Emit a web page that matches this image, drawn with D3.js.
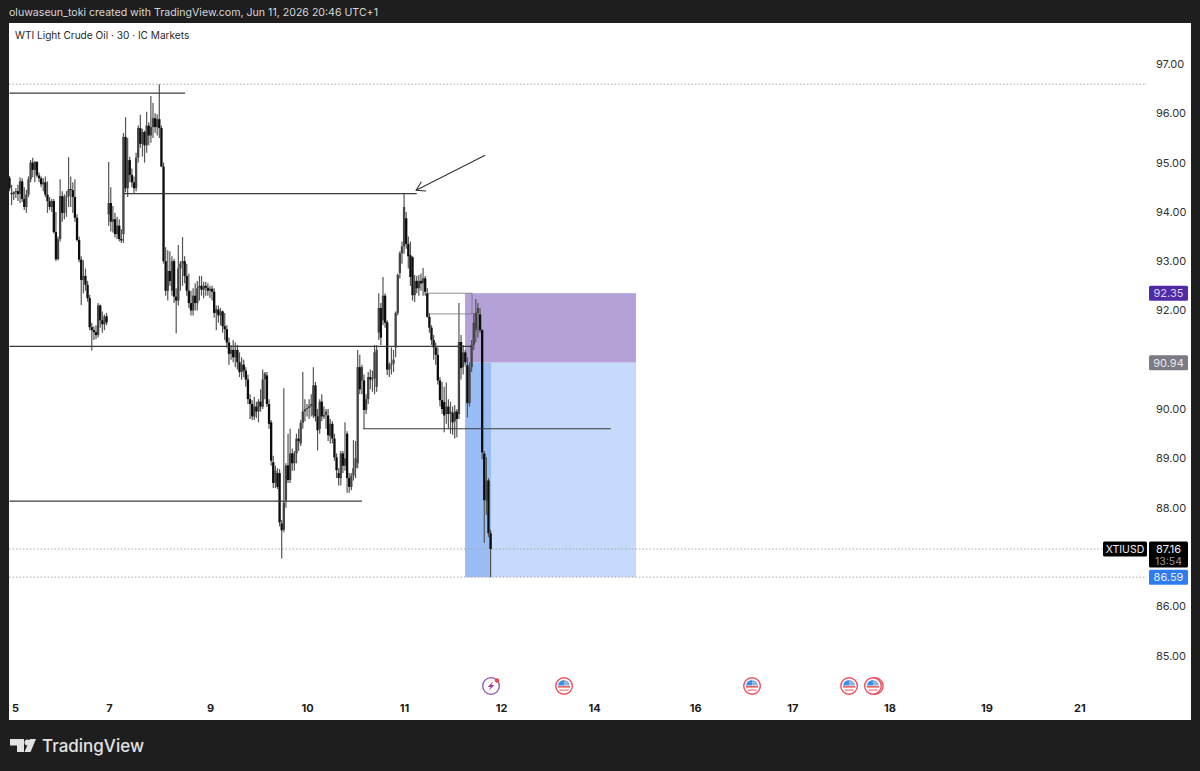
<!DOCTYPE html>
<html>
<head>
<meta charset="utf-8">
<script src="https://cdn.jsdelivr.net/npm/d3@7"></script>
<style>
  html, body { margin: 0; padding: 0; background: #1e1e1e; }
  svg { display: block; font-family: Inter, "Noto Sans", sans-serif; }
</style>
</head>
<body>
<div id="chart"></div>
<script>
// 30 min bars
const opens = [94.69,94.38,94.36,94.40,94.42,94.36,94.62,94.26,94.10,94.35,
  94.66,95.00,94.85,95.01,94.74,94.68,94.56,94.60,94.35,94.22,
  94.10,94.22,93.59,93.04,93.45,94.32,93.98,94.30,94.32,94.46,
  94.44,94.30,93.88,93.43,93.03,92.62,92.70,92.52,92.25,91.66,
  91.60,91.56,91.50,92.10,91.80,91.72,91.88,93.95,94.18,93.80,
  93.85,93.55,93.72,93.45,93.55,95.52,94.48,95.05,94.75,94.60,
  94.48,95.10,95.70,95.38,95.62,95.35,95.75,95.55,95.72,95.90,
  95.72,95.88,95.70,94.92,93.00,92.40,92.80,92.40,93.00,92.28,
  92.20,92.85,92.95,93.00,92.70,92.40,92.15,92.00,92.30,92.15,
  92.45,92.50,92.42,92.50,92.46,92.40,92.44,92.38,91.95,92.02,
  91.90,91.98,91.68,91.62,91.35,91.12,91.20,91.05,91.20,90.95,
  90.75,90.90,90.78,90.60,90.20,90.10,89.85,90.05,89.95,90.15,
  90.05,90.60,90.68,90.10,89.73,88.92,88.50,88.70,88.70,87.68,
  87.55,88.15,88.86,88.56,89.10,88.90,89.10,89.40,89.30,89.72,
  89.95,90.00,90.02,90.06,89.87,90.48,89.85,89.60,90.15,89.85,
  89.88,89.87,89.45,89.70,89.40,89.02,88.70,88.60,89.10,88.85,
  89.50,88.60,88.42,88.65,88.80,88.90,90.85,90.58,90.58,89.98,
  90.20,90.65,90.60,90.62,90.45,91.55,92.05,91.80,92.30,91.76,
  90.80,90.90,90.92,91.25,91.95,92.76,93.16,93.30,93.87,93.35,
  93.12,93.08,92.31,92.60,92.45,92.60,92.55,92.65,92.35,91.87,
  91.65,91.40,91.25,91.10,90.58,90.18,90.14,89.90,90.05,89.90,
  89.92,89.75,89.95,89.90,91.36,90.85,91.15,90.89,90.12,90.85,
  91.30,91.60,91.95,91.92,91.60,89.10,88.15,88.55,87.48];
const highs = [94.73,94.55,94.42,94.48,94.55,94.70,94.68,94.50,94.45,94.72,
  95.05,95.10,95.03,95.03,94.80,94.72,94.68,94.72,94.62,94.30,
  94.26,94.26,94.00,93.50,94.66,94.42,94.36,94.42,95.11,94.72,
  94.60,94.66,93.95,93.50,93.10,93.02,92.85,92.60,92.32,91.75,
  91.68,91.70,92.15,92.12,91.98,91.92,91.95,95.01,94.50,94.12,
  93.98,93.90,93.85,93.65,95.60,95.92,95.50,95.12,94.88,94.72,
  95.20,95.75,95.97,95.68,95.65,96.03,95.82,96.35,96.21,96.00,
  95.98,96.59,95.75,95.00,93.28,93.22,93.20,93.10,93.05,92.45,
  93.33,93.00,93.49,93.10,92.95,92.75,92.40,92.45,92.55,92.60,
  92.70,92.70,92.58,92.58,92.55,92.50,92.50,92.45,92.10,92.10,
  92.05,92.00,91.95,91.70,91.45,91.30,91.40,91.35,91.30,91.15,
  91.05,91.00,90.85,90.70,90.30,90.18,90.25,90.15,90.20,90.40,
  90.80,90.75,90.75,90.20,89.78,89.05,88.85,88.80,88.78,87.75,
  90.42,88.90,89.50,89.60,89.20,89.15,89.50,89.60,89.78,90.75,
  90.20,90.10,90.20,90.30,90.85,90.55,90.00,90.20,90.30,90.05,
  90.00,90.00,89.80,89.75,89.50,89.10,88.80,89.15,89.15,89.73,
  89.55,88.70,88.70,89.37,89.35,91.20,91.10,90.90,90.70,90.30,
  90.75,90.80,90.78,91.30,91.30,92.35,92.15,92.68,92.35,91.80,
  90.95,91.25,91.20,91.98,92.75,93.20,93.40,94.38,94.00,93.50,
  93.40,93.10,92.72,92.70,92.72,92.75,92.86,92.70,92.45,91.95,
  91.70,91.50,91.35,91.25,90.65,90.55,90.45,90.54,90.20,90.15,
  90.05,90.08,90.00,92.15,91.50,91.30,91.20,91.05,90.95,91.40,
  91.95,92.23,92.15,92.05,91.62,89.15,89.02,88.60,87.55];
const lows = [94.42,94.14,94.24,94.28,94.22,94.18,94.20,94.04,93.98,94.30,
  94.60,94.70,94.60,94.70,94.60,94.50,94.42,94.30,93.98,94.04,
  94.00,93.56,93.00,93.02,93.40,93.80,93.85,93.90,94.10,94.10,
  93.98,93.80,93.40,92.98,92.11,92.35,92.40,92.18,91.60,91.19,
  91.40,91.42,91.45,91.65,91.55,91.60,91.70,93.72,93.60,93.58,
  93.48,93.45,93.40,93.37,93.37,94.40,94.30,94.60,94.50,94.38,
  94.42,95.00,95.30,95.12,95.00,95.20,95.35,95.40,95.50,95.60,
  95.55,95.50,94.91,92.95,92.30,92.20,92.50,92.30,92.15,91.54,
  92.10,92.40,92.50,92.55,92.30,92.05,91.90,91.90,92.00,92.00,
  92.20,92.30,92.25,92.30,92.30,92.25,92.20,91.85,91.60,91.75,
  91.70,91.55,91.40,91.25,90.90,91.00,90.95,90.85,90.80,90.65,
  90.60,90.65,90.45,90.10,89.80,89.78,89.78,89.82,89.73,89.95,
  90.00,90.20,90.04,89.60,88.85,88.40,88.40,88.38,87.62,86.97,
  87.50,88.00,88.50,88.50,88.75,88.75,88.90,89.15,89.25,89.60,
  89.75,89.85,89.80,89.85,89.82,89.75,89.16,89.50,89.75,89.80,
  89.60,89.35,89.30,89.30,88.95,88.60,88.45,88.45,88.70,88.75,
  88.30,88.30,88.35,88.55,88.60,88.80,90.30,90.30,89.60,89.90,
  90.10,90.40,90.35,90.30,90.35,91.40,91.30,91.70,91.65,90.69,
  90.65,90.70,90.75,91.05,91.90,92.65,92.95,93.15,93.25,92.85,
  92.50,92.20,92.17,92.35,92.30,92.40,92.30,92.30,91.85,91.55,
  91.30,91.00,90.90,90.50,90.05,89.90,89.53,89.70,89.60,89.50,
  89.48,89.40,89.43,89.80,90.60,90.70,90.90,89.83,90.05,90.75,
  91.20,91.35,91.45,91.55,88.98,87.28,87.85,87.40,86.59];
const closes = [94.48,94.36,94.40,94.42,94.36,94.62,94.26,94.10,94.35,94.66,
  95.00,94.85,95.01,94.74,94.68,94.56,94.60,94.35,94.22,94.10,
  94.22,93.59,93.04,93.45,94.32,93.98,94.30,94.32,94.46,94.44,
  94.30,93.88,93.43,93.03,92.62,92.70,92.52,92.25,91.66,91.60,
  91.56,91.50,92.10,91.80,91.72,91.88,91.76,94.18,93.80,93.85,
  93.55,93.72,93.45,93.42,95.52,94.48,95.05,94.75,94.60,94.48,
  95.10,95.70,95.38,95.62,95.35,95.75,95.55,95.72,95.90,95.72,
  95.88,95.70,94.92,93.00,92.40,92.80,92.60,93.00,92.28,92.20,
  92.85,92.95,93.00,92.70,92.40,92.15,92.00,92.30,92.15,92.45,
  92.50,92.42,92.50,92.46,92.40,92.44,92.38,91.95,92.02,91.90,
  91.98,91.68,91.62,91.35,91.12,91.20,91.05,91.20,90.95,90.75,
  90.90,90.78,90.60,90.20,90.10,89.85,90.05,89.95,90.15,90.05,
  90.60,90.72,90.10,89.70,88.95,88.50,88.75,88.42,87.70,87.54,
  88.10,88.85,88.56,89.10,88.90,89.10,89.40,89.35,89.72,89.95,
  90.00,90.02,90.06,90.10,90.48,89.85,89.57,90.15,89.85,89.88,
  89.95,89.47,89.70,89.40,89.02,88.76,88.60,89.10,88.85,89.00,
  88.60,88.42,88.65,88.80,89.00,90.85,90.40,90.85,89.98,90.20,
  90.65,90.60,90.62,91.15,91.20,92.05,91.45,92.30,91.75,90.80,
  90.90,90.92,91.00,91.95,92.72,93.16,93.30,94.10,93.35,93.10,
  92.68,92.31,92.60,92.45,92.60,92.55,92.65,92.38,91.87,91.65,
  91.40,91.25,91.10,90.58,90.18,90.00,89.87,90.05,89.90,89.95,
  89.73,89.95,89.80,91.36,90.83,91.15,90.95,90.12,90.85,91.30,
  91.75,91.95,92.05,91.60,89.12,88.15,88.55,87.48,87.16];

const priceTicks = [97, 96, 95, 94, 93, 92, 90, 89, 88, 86, 85];
const dayLabels = ["5", "7", "9", "10", "11", "12", "14", "16", "17", "18", "19", "21"];
const dayBars = [2.6, 47.1, 95, 141, 187, 233, 277, 325, 371, 417, 463, 507];

// horizontal rays drawn on the chart
const levelPrices = [96.41, 94.37, 91.27, 88.13, 89.60];
const levelFrom = [0, 54.2, 0, 0, 167.5];
const levelTo = [83.2, 193, 219.2, 167, 285];

const thinPrices = [92.35, 91.93];
const thinFrom = [197.8, 199];

const dottedPrices = [96.59, 87.16, 86.59];

const entryPrice = 90.94, stopPrice = 92.35, targetPrice = 86.59;
const boxFrom = 215.9, boxTo = 296.9, lastBar = 228.2;

const arrowBars = [225.4, 192.7];
const arrowPrices = [95.15, 94.44];

const flagBars = [262.8, 351.9, 397.9, 410.1, 409.2];
const boltBar = 228.2;

const width = 1200, height = 771;
const panel = { left: 9, right: 1191, top: 23, bottom: 720 };

const x = d3.scaleLinear().domain([0, 228]).range([9.5, 490.6]);
const y = d3.scaleLinear().domain([97, 85]).range([64, 655.5]);

const svg = d3.select("#chart").append("svg")
    .attr("width", width)
    .attr("height", height);

const defs = svg.append("defs");
defs.append("clipPath").attr("id", "panel-clip")
    .append("rect")
    .attr("x", panel.left).attr("y", panel.top)
    .attr("width", panel.right - panel.left)
    .attr("height", panel.bottom - panel.top);
defs.append("filter").attr("id", "soft")
    .append("feGaussianBlur").attr("stdDeviation", 0.4);

svg.append("rect").attr("width", width).attr("height", height).attr("fill", "#1e1e1e");
svg.append("rect")
    .attr("x", panel.left).attr("y", panel.top)
    .attr("width", panel.right - panel.left)
    .attr("height", panel.bottom - panel.top)
    .attr("fill", "#ffffff");

svg.append("text")
    .attr("x", 9).attr("y", 16)
    .attr("fill", "#d8d8d8")
    .style("font-size", "10.6px")
    .text("oluwaseun_toki created with TradingView.com, Jun 11, 2026 20:46 UTC+1");

svg.append("text")
    .attr("x", 15).attr("y", 39)
    .attr("fill", "#2a2a2a")
    .style("font-size", "10.1px")
    .text("WTI Light Crude Oil · 30 · IC Markets");

const chart = svg.append("g").attr("clip-path", "url(#panel-clip)");

// position tool
chart.append("rect")
    .attr("x", x(boxFrom)).attr("y", y(stopPrice))
    .attr("width", x(boxTo) - x(boxFrom))
    .attr("height", y(entryPrice) - y(stopPrice))
    .attr("fill", "#b3a1d8");
chart.append("rect")
    .attr("x", x(boxFrom)).attr("y", y(entryPrice))
    .attr("width", x(boxTo) - x(boxFrom))
    .attr("height", y(targetPrice) - y(entryPrice))
    .attr("fill", "#c6dafb");
chart.append("rect")
    .attr("x", x(boxFrom)).attr("y", y(entryPrice))
    .attr("width", x(lastBar) - x(boxFrom))
    .attr("height", y(targetPrice) - y(entryPrice))
    .attr("fill", "#9bbdf6");

chart.selectAll(".dotted")
    .data(dottedPrices)
    .join("line")
    .attr("class", "dotted")
    .attr("x1", panel.left).attr("x2", 1147)
    .attr("y1", d => y(d)).attr("y2", d => y(d))
    .attr("stroke", "#a8a8a8")
    .attr("stroke-width", 1)
    .attr("stroke-dasharray", "1.5,2");

const candles = chart.append("g").attr("filter", "url(#soft)");
const bars = d3.range(opens.length);

candles.selectAll(".wick")
    .data(bars)
    .join("line")
    .attr("class", "wick")
    .attr("x1", i => x(i)).attr("x2", i => x(i))
    .attr("y1", i => y(highs[i])).attr("y2", i => y(lows[i]))
    .attr("stroke", "#555555")
    .attr("stroke-width", 1.2);

candles.selectAll(".body")
    .data(bars)
    .join("rect")
    .attr("class", "body")
    .attr("x", i => x(i) - 1.15)
    .attr("width", 2.3)
    .attr("y", i => y(Math.max(opens[i], closes[i])))
    .attr("height", i => Math.max(1, Math.abs(y(opens[i]) - y(closes[i]))))
    .attr("fill", i => closes[i] >= opens[i] ? "#444444" : "#0a0a0a");

chart.selectAll(".level")
    .data(levelPrices)
    .join("line")
    .attr("class", "level")
    .attr("x1", (d, i) => x(levelFrom[i]))
    .attr("x2", (d, i) => x(levelTo[i]))
    .attr("y1", d => y(d)).attr("y2", d => y(d))
    .attr("stroke", "#3a3a3a")
    .attr("stroke-width", 1.2);

chart.selectAll(".thin")
    .data(thinPrices)
    .join("line")
    .attr("class", "thin")
    .attr("x1", (d, i) => x(thinFrom[i]))
    .attr("x2", x(219.2))
    .attr("y1", d => y(d)).attr("y2", d => y(d))
    .attr("stroke", "#777777")
    .attr("stroke-width", 0.8);
chart.append("line")
    .attr("x1", x(219.2)).attr("x2", x(219.2))
    .attr("y1", y(thinPrices[0])).attr("y2", y(thinPrices[1]))
    .attr("stroke", "#777777")
    .attr("stroke-width", 0.8);

// arrow
const ax = x(arrowBars[1]), ay = y(arrowPrices[1]);
const tail = [x(arrowBars[0]), y(arrowPrices[0])];
const ang = Math.atan2(tail[1] - ay, tail[0] - ax);
chart.append("line")
    .attr("x1", tail[0]).attr("y1", tail[1])
    .attr("x2", ax).attr("y2", ay)
    .attr("stroke", "#333333").attr("stroke-width", 1.1);
chart.append("path")
    .attr("d", d3.line()([
        [ax + 10 * Math.cos(ang - 0.55), ay + 10 * Math.sin(ang - 0.55)],
        [ax, ay],
        [ax + 10 * Math.cos(ang + 0.55), ay + 10 * Math.sin(ang + 0.55)]
    ]))
    .attr("fill", "none").attr("stroke", "#333333").attr("stroke-width", 1.1);

// axes
const priceAxis = svg.append("g")
    .attr("transform", "translate(1156,0)")
    .call(d3.axisRight(y).tickValues(priceTicks).tickFormat(d3.format(".2f")).tickSize(0).tickPadding(0));
priceAxis.select(".domain").remove();
priceAxis.selectAll("text")
    .attr("fill", "#333333")
    .style("font-family", "Inter, sans-serif")
    .style("font-size", "11px");

const timeAxis = svg.append("g")
    .attr("transform", "translate(0,704)")
    .call(d3.axisBottom(x).tickValues(dayBars).tickFormat((d, i) => dayLabels[i]).tickSize(0).tickPadding(0));
timeAxis.select(".domain").remove();
timeAxis.selectAll("text")
    .attr("fill", "#1c1c1c")
    .style("font-family", "Inter, sans-serif")
    .style("font-weight", "700")
    .style("font-size", "11px");

// price tags
function tag(price, label, fill, color) {
    svg.append("rect")
        .attr("x", 1149).attr("y", y(price) - 7.5)
        .attr("width", 39).attr("height", 15)
        .attr("rx", 1.5)
        .attr("fill", fill);
    svg.append("text")
        .attr("x", 1168.5).attr("y", y(price) + 4)
        .attr("text-anchor", "middle")
        .attr("fill", color)
        .style("font-size", "11px")
        .text(label);
}
tag(stopPrice, "92.35", "#4f2ba6", "#d9d2ee");
tag(entryPrice, "90.94", "#7b7b85", "#e8e8ea");
tag(targetPrice, "86.59", "#2f7cf0", "#e4eefd");

svg.append("rect").attr("x", 1149).attr("y", y(87.16) - 7.5)
    .attr("width", 39).attr("height", 26).attr("rx", 1.5).attr("fill", "#000");
svg.append("text").attr("x", 1168.5).attr("y", y(87.16) + 4)
    .attr("text-anchor", "middle").attr("fill", "#f0f0f0")
    .style("font-size", "11px").text("87.16");
svg.append("text").attr("x", 1168.5).attr("y", y(87.16) + 16)
    .attr("text-anchor", "middle").attr("fill", "#9a9a9a")
    .style("font-size", "10.5px").text("13:54");
svg.append("rect").attr("x", 1103).attr("y", y(87.16) - 7.5)
    .attr("width", 44).attr("height", 15).attr("rx", 1.5).attr("fill", "#000");
svg.append("text").attr("x", 1125).attr("y", y(87.16) + 4)
    .attr("text-anchor", "middle").attr("fill", "#f0f0f0")
    .style("font-size", "10.5px").text("XTIUSD");

// event markers
const eventY = 686;
const flags = svg.selectAll(".flag")
    .data(flagBars)
    .join("g")
    .attr("class", "flag")
    .attr("transform", d => `translate(${x(d)},${eventY})`);
flags.append("circle").attr("r", 8.3).attr("fill", "#fff").attr("stroke", "#ef4f5f").attr("stroke-width", 1.4);
flags.append("path").attr("d", "M-6,-0.5 A6,6 0 0 1 0,-6 L0,-0.5 Z").attr("fill", "#3a8ee8");
flags.append("path").attr("d", "M0,-6 A6,6 0 0 1 6,-0.5 L0,-0.5 Z").attr("fill", "#8fb4d8");
flags.append("rect").attr("x", -6).attr("y", 0).attr("width", 12).attr("height", 1.6).attr("fill", "#ef5a5a");
flags.append("rect").attr("x", -4.5).attr("y", 3.4).attr("width", 9).attr("height", 1.4).attr("fill", "#f08a8a");

const bolt = svg.append("g").attr("transform", `translate(${x(boltBar)},${eventY})`);
bolt.append("circle").attr("r", 8.3).attr("fill", "#fff").attr("stroke", "#8d4bb0").attr("stroke-width", 1.3);
bolt.append("path").attr("d", "M2.4,-5 L-3.2,1 L-0.2,1 L-2.4,5 L3.2,-1 L0.2,-1 Z").attr("fill", "#a0368f");
bolt.append("circle").attr("cx", 6).attr("cy", -5.5).attr("r", 2.2).attr("fill", "#ef3f4f");

// logo
const logo = svg.append("g").attr("fill", "#e2e2e2");
logo.append("path").attr("d", "M10,739 H24 V752 H17 V745.5 H10 Z");
logo.append("circle").attr("cx", 27.5).attr("cy", 742.5).attr("r", 3);
logo.append("path").attr("d", "M30,739 H36 L30.5,752 H24.5 Z");
svg.append("text")
    .attr("x", 42).attr("y", 751.5)
    .attr("fill", "#e2e2e2")
    .style("font-size", "17px")
    .style("font-weight", "500")
    .text("TradingView");
</script>
</body>
</html>
